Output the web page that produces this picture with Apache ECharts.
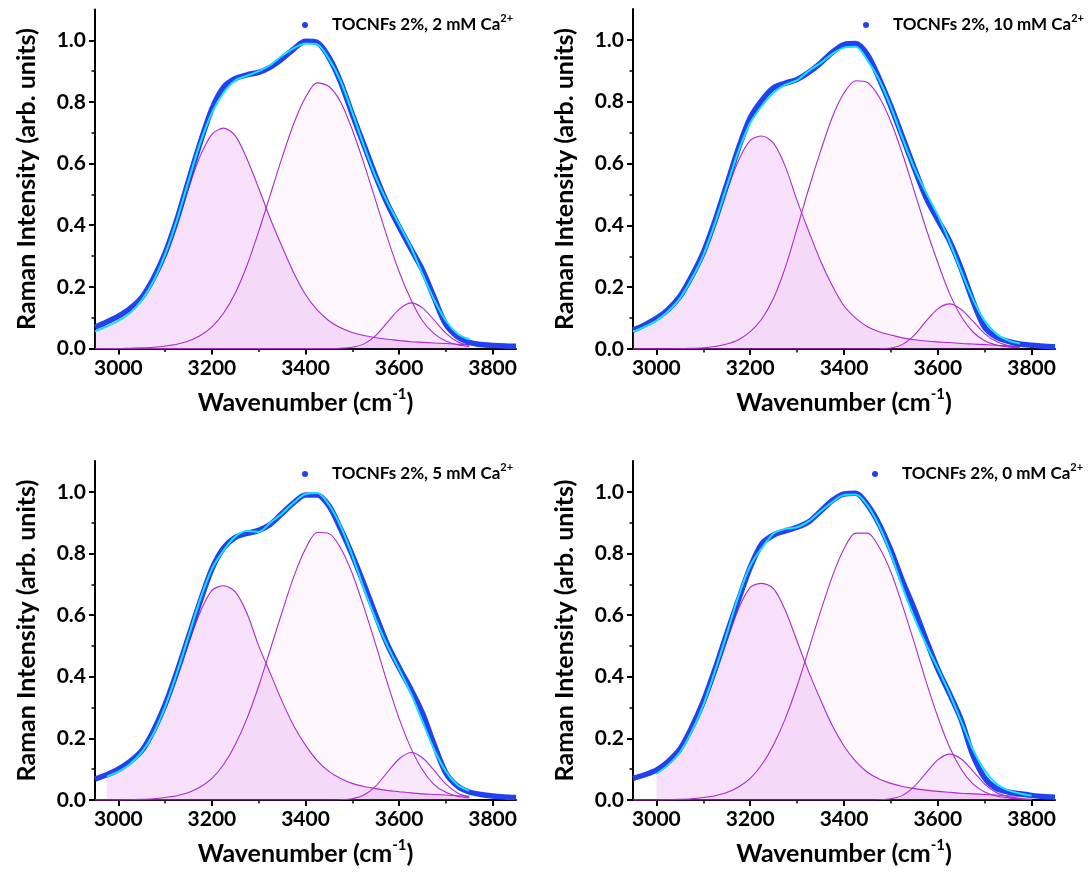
<!DOCTYPE html>
<html>
<head>
<meta charset="utf-8">
<script src="https://cdn.jsdelivr.net/npm/echarts@6/dist/echarts.min.js"></script>
<style>
  html, body { margin: 0; padding: 0; background: #fff; }
  #chart { width: 1090px; height: 873px; }
</style>
</head>
<body>
<div id="chart"></div>
<script>
// Raman O–H stretching band of TOCNF gels, decomposed into three components.
const wavenumber = [2950,2975,3000,3025,3050,3075,3100,3125,3150,3175,3200,3225,3250,3275,3300,3325,3350,3375,3400,3425,3450,3475,3500,3525,3550,3575,3600,3625,3650,3675,3700,3725,3750,3775,3800,3825,3850];

const xTickLabels = [3000, 3200, 3400, 3600, 3800];
const xMinorTicks = [3100, 3300, 3500, 3700];
const yTickLabels = [0, 0.2, 0.4, 0.6, 0.8, 1.0];
const yMinorTicks = [0.1, 0.3, 0.5, 0.7, 0.9];

// 2 mM Ca2+
const spectrum_2mM = [0.069,0.086,0.105,0.13,0.166,0.228,0.31,0.418,0.545,0.668,0.778,0.848,0.876,0.888,0.896,0.913,0.94,0.972,0.997,0.993,0.945,0.865,0.76,0.66,0.56,0.47,0.395,0.325,0.255,0.165,0.078,0.038,0.02,0.013,0.01,0.008,0.007];
const fit_2mM = [0.056,0.071,0.09,0.116,0.157,0.219,0.306,0.417,0.544,0.667,0.765,0.83,0.87,0.885,0.9,0.92,0.95,0.975,0.99,0.987,0.94,0.868,0.766,0.657,0.557,0.475,0.403,0.33,0.242,0.158,0.09,0.048,0.03,null,null,null,null];
const band1_2mM = [0.056,0.071,0.09,0.115,0.155,0.215,0.298,0.403,0.52,0.625,0.695,0.715,0.69,0.615,0.52,0.42,0.33,0.245,0.175,0.125,0.09,0.067,0.052,0.042,0.035,0.03,0.026,0.022,0.02,0.018,0.016,0.014,0.013,null,null,null,null];
const band2_2mM = [0,0,0,0.001,0.002,0.004,0.008,0.014,0.024,0.042,0.07,0.115,0.18,0.27,0.38,0.5,0.62,0.73,0.815,0.862,0.85,0.8,0.71,0.6,0.48,0.36,0.25,0.16,0.09,0.048,0.024,0.012,0.007,null,null,null,null];
const band3_2mM = [0,0,0,0,0,0,0,0,0,0,0,0,0,0,0,0,0,0,0,0,0,0.001,0.004,0.015,0.042,0.085,0.127,0.148,0.132,0.092,0.05,0.022,0.01,null,null,null,null];

// 10 mM Ca2+
const spectrum_10mM = [0.061,0.078,0.099,0.128,0.17,0.235,0.312,0.415,0.532,0.65,0.748,0.805,0.845,0.86,0.872,0.895,0.925,0.96,0.985,0.988,0.952,0.875,0.785,0.685,0.585,0.49,0.418,0.35,0.26,0.155,0.07,0.038,0.025,0.016,0.012,0.009,0.007];
const fit_10mM = [0.056,0.072,0.092,0.122,0.164,0.227,0.304,0.408,0.526,0.64,0.731,0.787,0.83,0.855,0.87,0.9,0.925,0.955,0.975,0.978,0.934,0.871,0.783,0.681,0.585,0.506,0.433,0.347,0.251,0.161,0.091,0.049,0.028,0.018,null,null,null];
const band1_10mM = [0.056,0.072,0.092,0.122,0.163,0.225,0.3,0.4,0.51,0.61,0.675,0.689,0.665,0.59,0.48,0.38,0.285,0.205,0.14,0.1,0.072,0.056,0.045,0.036,0.03,0.026,0.023,0.021,0.018,0.016,0.014,0.012,0.01,0.008,null,null,null];
const band2_10mM = [0,0,0,0,0.001,0.002,0.004,0.008,0.016,0.03,0.056,0.098,0.165,0.265,0.39,0.52,0.64,0.75,0.828,0.868,0.862,0.815,0.735,0.63,0.51,0.39,0.28,0.18,0.105,0.055,0.027,0.013,0.007,0.004,null,null,null];
const band3_10mM = [0,0,0,0,0,0,0,0,0,0,0,0,0,0,0,0,0,0,0,0,0,0.001,0.003,0.015,0.045,0.09,0.13,0.146,0.128,0.09,0.05,0.024,0.011,0.006,null,null,null];

// 5 mM Ca2+
const spectrum_5mM = [0.068,0.082,0.1,0.125,0.16,0.225,0.31,0.415,0.53,0.645,0.75,0.818,0.852,0.865,0.875,0.895,0.93,0.965,0.99,0.99,0.955,0.88,0.795,0.7,0.6,0.505,0.43,0.36,0.282,0.18,0.088,0.045,0.026,0.018,0.013,0.01,0.008];
const fit_5mM = [null,0.076,0.092,0.117,0.155,0.216,0.303,0.412,0.532,0.652,0.75,0.81,0.855,0.873,0.87,0.9,0.93,0.965,0.993,0.996,0.958,0.889,0.793,0.685,0.587,0.501,0.425,0.347,0.255,0.164,0.093,0.049,0.03,null,null,null,null];
const band1_5mM = [null,0.074,0.09,0.115,0.153,0.212,0.295,0.398,0.508,0.61,0.68,0.695,0.675,0.605,0.5,0.41,0.32,0.24,0.178,0.128,0.093,0.07,0.054,0.044,0.037,0.031,0.027,0.023,0.02,0.018,0.016,0.014,0.013,null,null,null,null];
const band2_5mM = [0,0,0,0.001,0.002,0.004,0.008,0.014,0.024,0.042,0.07,0.115,0.18,0.265,0.37,0.49,0.61,0.725,0.815,0.868,0.865,0.818,0.735,0.625,0.505,0.38,0.265,0.17,0.098,0.05,0.025,0.012,0.007,null,null,null,null];
const band3_5mM = [0,0,0,0,0,0,0,0,0,0,0,0,0,0,0,0,0,0,0,0,0,0.001,0.004,0.016,0.045,0.09,0.133,0.154,0.137,0.096,0.052,0.023,0.01,null,null,null,null];

// 0 mM Ca2+
const spectrum_0mM = [0.07,0.082,0.097,0.125,0.165,0.235,0.32,0.425,0.54,0.65,0.755,0.832,0.86,0.873,0.885,0.903,0.937,0.972,0.993,0.995,0.958,0.895,0.81,0.71,0.62,0.52,0.425,0.345,0.26,0.145,0.072,0.038,0.026,0.02,0.015,0.011,0.009];
const fit_0mM = [null,null,0.085,0.114,0.155,0.222,0.308,0.419,0.539,0.662,0.76,0.818,0.865,0.88,0.885,0.905,0.937,0.967,0.99,0.991,0.956,0.889,0.798,0.689,0.591,0.505,0.428,0.346,0.255,0.164,0.096,0.053,0.032,0.021,0.014,null,null];
const band1_0mM = [null,null,0.085,0.113,0.153,0.218,0.3,0.405,0.515,0.62,0.69,0.703,0.685,0.615,0.515,0.415,0.325,0.242,0.175,0.125,0.09,0.068,0.054,0.044,0.037,0.032,0.028,0.025,0.022,0.02,0.018,0.016,0.014,0.012,0.01,null,null];
const band2_0mM = [0,0,0,0.001,0.002,0.004,0.008,0.014,0.024,0.042,0.07,0.115,0.18,0.265,0.37,0.49,0.612,0.725,0.815,0.866,0.866,0.82,0.74,0.63,0.51,0.385,0.27,0.172,0.1,0.052,0.026,0.013,0.007,0.004,0.002,null,null];
const band3_0mM = [0,0,0,0,0,0,0,0,0,0,0,0,0,0,0,0,0,0,0,0,0,0.001,0.004,0.015,0.044,0.088,0.13,0.149,0.133,0.094,0.052,0.024,0.011,0.005,0.002,null,null];

const FONT = 'Lato';
const BLUE = '#2141f2';
const CYAN = '#14e3f5';
const BAND_LINE = '#a92ccb';
const BAND_FILLS = ['rgba(212,90,230,0.27)', 'rgba(230,110,230,0.09)', 'rgba(212,90,230,0.13)'];

const panels = [
  { conc: '2 mM',  spectrum: spectrum_2mM,  fit: fit_2mM,  bands: [band1_2mM, band2_2mM, band3_2mM],
    grid: { left: 95,  top: 9.5, width: 421, height: 339 }, legend: { left: 297, top: 8 } },
  { conc: '10 mM', spectrum: spectrum_10mM, fit: fit_10mM, bands: [band1_10mM, band2_10mM, band3_10mM],
    grid: { left: 633, top: 9,   width: 422, height: 340 }, legend: { left: 858, top: 8 } },
  { conc: '5 mM',  spectrum: spectrum_5mM,  fit: fit_5mM,  bands: [band1_5mM, band2_5mM, band3_5mM],
    grid: { left: 95,  top: 461, width: 421, height: 339 }, legend: { left: 297, top: 457 } },
  { conc: '0 mM',  spectrum: spectrum_0mM,  fit: fit_0mM,  bands: [band1_0mM, band2_0mM, band3_0mM],
    grid: { left: 633, top: 461, width: 422, height: 339 }, legend: { left: 867, top: 457 } }
];

const toPairs = ys => wavenumber.map((x, i) => [x, ys[i]]);
const boldText = size => ({ fontFamily: FONT, fontWeight: 'bold', fontSize: size, color: '#000' });

const option = { animation: false, backgroundColor: '#fff', grid: [], xAxis: [], yAxis: [], legend: [], series: [] };

panels.forEach((p, k) => {
  const seriesName = 'TOCNFs 2%, ' + p.conc + ' Ca2+';
  option.grid.push(Object.assign({ containLabel: false }, p.grid));

  const xMain = option.xAxis.length;
  option.xAxis.push({
    gridIndex: k, type: 'value', position: 'bottom', min: 2950, max: 3850,
    name: '{t|Wavenumber (cm}{s|-1}{t|)}', nameLocation: 'middle', nameGap: 38,
    nameTextStyle: { rich: {
      t: Object.assign(boldText(25), { lineHeight: 32 }),
      s: Object.assign(boldText(15), { lineHeight: 15, verticalAlign: 'top' })
    } },
    axisLine: { onZero: false, lineStyle: { color: '#000', width: 2 } },
    axisTick: { customValues: xTickLabels, length: 6, lineStyle: { color: '#000', width: 2 } },
    axisLabel: Object.assign(boldText(21), { customValues: xTickLabels, margin: 9, formatter: v => String(v) }),
    splitLine: { show: false }
  });
  option.xAxis.push({
    gridIndex: k, type: 'value', position: 'bottom', min: 2950, max: 3850,
    axisLine: { show: false, onZero: false }, axisLabel: { show: false }, splitLine: { show: false },
    axisTick: { show: true, customValues: xMinorTicks, length: 3.5, lineStyle: { color: '#000', width: 1.5 } }
  });

  const yMain = option.yAxis.length;
  option.yAxis.push({
    gridIndex: k, type: 'value', position: 'left', min: 0, max: 1.1,
    name: 'Raman Intensity (arb. units)', nameLocation: 'middle', nameGap: 56,
    nameTextStyle: boldText(25),
    axisLine: { show: true, onZero: false, lineStyle: { color: '#000', width: 2 } },
    axisTick: { show: true, customValues: yTickLabels, length: 6, lineStyle: { color: '#000', width: 2 } },
    axisLabel: Object.assign(boldText(21), { customValues: yTickLabels, margin: 9, formatter: v => v.toFixed(1) }),
    splitLine: { show: false }
  });
  option.yAxis.push({
    gridIndex: k, type: 'value', position: 'left', offset: 0, min: 0, max: 1.1,
    axisLine: { show: false, onZero: false }, axisLabel: { show: false }, splitLine: { show: false },
    axisTick: { show: true, customValues: yMinorTicks, length: 3.5, lineStyle: { color: '#000', width: 1.5 } }
  });

  option.legend.push({
    data: [seriesName], left: p.legend.left, top: p.legend.top,
    icon: 'circle', itemWidth: 44, itemHeight: 6, selectedMode: false,
    formatter: () => '{t|TOCNFs 2%, ' + p.conc + ' Ca}{s|2+}',
    textStyle: { rich: {
      t: Object.assign(boldText(17), { lineHeight: 24 }),
      s: Object.assign(boldText(11), { lineHeight: 10, verticalAlign: 'top' })
    } }
  });

  p.bands.forEach((b, j) => {
    option.series.push({
      name: 'Component ' + (j + 1) + ' (' + p.conc + ')', type: 'line',
      xAxisIndex: xMain, yAxisIndex: yMain, data: toPairs(b),
      showSymbol: false, smooth: 0.3, silent: true, z: 2,
      lineStyle: { color: BAND_LINE, width: 1.1 },
      areaStyle: { color: BAND_FILLS[j], origin: 'start' }
    });
  });

  option.series.push({
    name: seriesName, type: 'line', xAxisIndex: xMain, yAxisIndex: yMain,
    data: toPairs(p.spectrum), showSymbol: false, smooth: 0.3, silent: true, z: 3,
    itemStyle: { color: BLUE }, lineStyle: { color: BLUE, width: 5.5 }
  });
  option.series.push({
    name: 'Fit (' + p.conc + ')', type: 'line', xAxisIndex: xMain, yAxisIndex: yMain,
    data: toPairs(p.fit), showSymbol: false, smooth: 0.3, silent: true, z: 4,
    lineStyle: { color: CYAN, width: 2 }
  });
});

const chart = echarts.init(document.getElementById('chart'), null, { renderer: 'canvas' });
chart.setOption(option);
</script>
</body>
</html>
